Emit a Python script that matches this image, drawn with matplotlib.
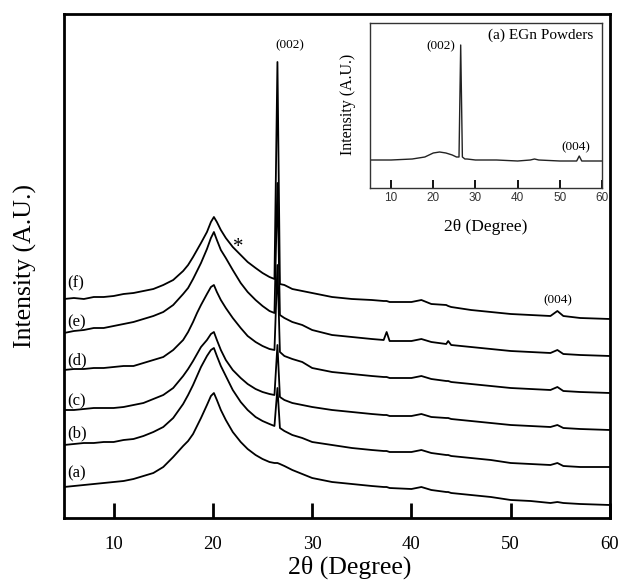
import matplotlib
matplotlib.use("Agg")
import matplotlib.pyplot as plt

# ---------------- main panel data (arbitrary intensity units) ----------------
two_theta = [5, 6, 7, 8, 9, 10, 11, 12, 13, 14, 15, 16, 17, 17.5, 18, 18.4, 18.8, 19.4, 19.8, 20.1,
             20.4, 20.8, 21.3, 22, 22.8, 23.5, 24.3, 25, 25.7, 26.2, 26.5, 26.75, 27.2,
             28, 29, 30, 32, 34, 36, 37.2, 37.5, 37.8, 40, 41, 42, 43.5, 43.7, 44, 46,
             48, 50, 52, 54, 54.7, 55.3, 57, 60]

int_f = [219, 220, 219, 221, 221, 222, 224, 225, 227, 229, 233, 238, 247, 253, 261, 268, 275, 286, 296, 301,
         296, 288, 280, 271, 263, 256, 250, 245, 241, 239, 456, 234, 233,
         229, 227, 225, 221, 219, 218, 217, 217, 216, 216, 218, 214, 213, 212, 211, 208,
         206, 204, 203, 202, 207, 202, 200, 199]
int_e = [185, 187, 188, 190, 190, 192, 194, 196, 199, 202, 206, 213, 224, 230, 239, 247, 255, 269, 280, 286,
         278, 268, 260, 248, 235, 226, 218, 212, 207, 205, 335, 203, 200,
         196, 193, 188, 183, 181, 179, 178, 186, 177, 177, 179, 176, 174, 177, 173, 171,
         169, 167, 166, 165, 168, 164, 163, 162]
int_d = [148, 149, 149, 150, 150, 151, 152, 152, 155, 158, 161, 168, 178, 186, 196, 205, 213, 224, 231, 233,
         226, 218, 210, 200, 190, 182, 176, 172, 169, 168, 253, 166, 162,
         159, 156, 150, 146, 144, 142, 141, 141, 140, 140, 142, 139, 137, 137, 136, 134,
         132, 130, 129, 128, 131, 127, 126, 125]
int_c = [108, 108, 109, 110, 110, 110, 111, 113, 115, 119, 123, 130, 142, 149, 157, 164, 171, 178, 184, 186,
         178, 168, 158, 148, 140, 134, 129, 126, 124, 123, 173, 121, 118,
         115, 113, 111, 108, 106, 104, 103, 103, 102, 102, 104, 101, 100, 100, 99, 97,
         95, 93, 92, 91, 93, 90, 89, 88]
int_b = [73, 74, 75, 75, 76, 76, 78, 79, 82, 86, 91, 100, 114, 123, 133, 142, 151, 162, 168, 170,
         162, 152, 142, 128, 116, 108, 101, 97, 94, 92, 130, 90, 87,
         83, 80, 76, 73, 70, 68, 67, 67, 66, 66, 68, 65, 63, 63, 62, 60,
         58, 55, 54, 53, 55, 52, 51, 51]
int_a = [31, 32, 33, 34, 35, 36, 37, 39, 42, 45, 51, 61, 72, 77, 84, 92, 100, 113, 122, 125,
         118, 108, 98, 86, 76, 69, 63, 59, 56, 55, 55, 54, 52,
         48, 44, 40, 36, 34, 32, 31, 31, 30, 29, 31, 28, 26, 26, 25, 23,
         21, 18, 17, 15, 16, 15, 14, 13]

series = [("(a)", int_a, 45), ("(b)", int_b, 85), ("(c)", int_c, 117),
          ("(d)", int_d, 158), ("(e)", int_e, 196), ("(f)", int_f, 235)]

# ---------------- inset data ----------------
inset_theta = [5, 10, 15, 18, 20, 21.5, 23, 24.5, 25.5, 26.1, 26.5, 26.9, 27.5, 28, 30,
               35, 40, 43, 44, 45, 50, 54, 54.6, 55.2, 60]
inset_int = [28, 28, 29, 31, 35, 36, 35, 33, 31, 31, 143, 31, 29, 29, 28,
             28, 27, 28, 29, 28, 27, 27, 32, 27, 27]

main_ticks = [10, 20, 30, 40, 50, 60]

plt.rcParams['font.family'] = ['Liberation Serif', 'DejaVu Serif']
plt.rcParams['mathtext.fontset'] = 'stix'

W, H = 621, 584
fig = plt.figure(figsize=(W / 100, H / 100), dpi=100)

ax = fig.add_axes([64 / W, (H - 518) / H, 546 / W, 504 / H])
for name, vals, ylab in series:
    ax.plot(two_theta, vals, color='black', lw=1.3)
    ax.text(5.35, ylab, name, fontsize=12, ha='left', va='center')
ax.set_xlim(5, 60)
ax.set_ylim(0, 504)
ax.set_yticks([])
ax.set_xticks(main_ticks)
ax.set_xticklabels([str(t) for t in main_ticks])
ax.tick_params(axis='x', direction='in', length=11, width=2, labelsize=13.5, pad=13)
for s in ax.spines.values():
    s.set_linewidth(2)
ax.text(27.7, 473, "(002)", fontsize=9.5, ha='center', va='center')
ax.text(54.75, 218, "(004)", fontsize=9.5, ha='center', va='center')
ax.text(22.6, 270, "*", fontsize=15, ha='center', va='center')

fig.text(25 / W, 1 - 266 / H, "Intensity (A.U.)", rotation=90, fontsize=18.5,
         ha='center', va='center')
fig.text(350 / W, 1 - 567 / H, "2θ (Degree)", fontsize=18.5, ha='center', va='center')

# inset
axi = fig.add_axes([370 / W, (H - 188) / H, 232 / W, 165 / H])
axi.plot(inset_theta, inset_int, color='#222222', lw=1.0)
axi.set_xlim(5, 60)
axi.set_ylim(0, 165)
axi.set_yticks([])
axi.set_xticks(main_ticks)
axi.set_xticklabels([str(t) for t in main_ticks], family=['Liberation Sans', 'DejaVu Sans'])
axi.tick_params(axis='x', direction='in', length=6, width=1.3, labelsize=8.5, pad=3,
                labelcolor='#333333')
for s in axi.spines.values():
    s.set_linewidth(1.0)
    s.set_color('#333333')
axi.text(21.7, 142, "(002)", fontsize=9.5, ha='center', va='center')
axi.text(53.7, 41, "(004)", fontsize=9.5, ha='center', va='center')
axi.text(45.5, 153, "(a) EGn Powders", fontsize=11, ha='center', va='center')
fig.text(486 / W, 1 - 227 / H, "2θ (Degree)", fontsize=12.5, ha='center', va='center')
fig.text(348 / W, 1 - 104 / H, "Intensity (A.U.)", rotation=90, fontsize=11.5,
         ha='center', va='center')

fig.savefig("out.png", dpi=100)
